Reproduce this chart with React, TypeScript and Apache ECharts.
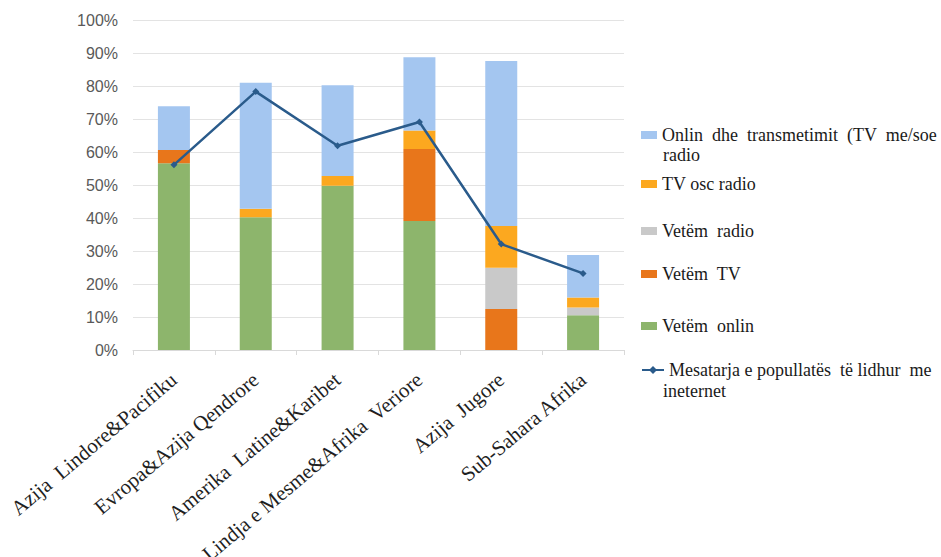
import React, { useEffect, useRef } from "react";
import * as echarts from "echarts";

const categories = [
  "Azija  Lindore&Pacifiku",
  "Evropa&Azija Qendrore",
  "Amerika  Latine&Karibet",
  "Lindja e Mesme&Afrika  Veriore",
  "Azija  Jugore",
  "Sub-Sahara Afrika",
];
const vetemOnlin = [56.6, 40.2, 49.8, 39.1, 0, 10.5];
const vetemTV = [4.0, 0, 0, 21.8, 12.4, 0];
const vetemRadio = [0, 0, 0, 0, 12.5, 2.4];
const tvOseRadio = [0, 2.6, 2.9, 5.6, 12.7, 3.0];
const onlinTransmetim = [13.3, 38.2, 27.5, 22.2, 50.0, 12.9];
const mesatarja = [56.1, 78.3, 61.9, 69.1, 32.1, 23.2];
const yTicks = [0, 10, 20, 30, 40, 50, 60, 70, 80, 90, 100];

const names = {
  blue: "Onlin dhe transmetimit (TV me/soe radio",
  yellow: "TV osc radio",
  grey: "Vetëm radio",
  orange: "Vetëm TV",
  green: "Vetëm onlin",
  line: "Mesatarja e popullatës të lidhur me ineternet",
};
const firstLines: Record<string, string> = {
  [names.blue]: "Onlin  dhe  transmetimit  (TV  me/soe",
  [names.line]: "Mesatarja e popullatës  të lidhur  me",
  [names.grey]: "Vetëm  radio",
  [names.orange]: "Vetëm  TV",
  [names.green]: "Vetëm  onlin",
};
const secondLines = [
  { text: "radio", y: 157 },
  { text: "ineternet", y: 393 },
];

const SERIF = "'Liberation Serif', 'DejaVu Serif', serif";

export default function App() {
  const ref = useRef<HTMLDivElement>(null);
  useEffect(() => {
    const chart = echarts.init(ref.current!, null, { renderer: "svg" });
    const textStyle = {
      fontFamily: SERIF,
      fontSize: 18,
      color: "#1a1a1a",
      lineHeight: 22,
    };
    const mkLegend = (name: string, top: number, line = false) => ({
      data: [name],
      left: 641,
      top,
      orient: "vertical",
      icon: line ? undefined : "rect",
      itemWidth: line ? 22 : 16,
      itemHeight: line ? 10 : 8,
      itemGap: 0,
      padding: 0,
      selectedMode: false,
      formatter: (n: string) => firstLines[n] ?? n,
      textStyle,
    });
    const barBase = {
      type: "bar",
      stack: "total",
      barWidth: 32,
    };
    chart.setOption({
      animation: false,
      grid: {
        left: 133,
        right: 317,
        top: 20,
        bottom: 207,
        containLabel: false,
        outerBoundsMode: "none",
      },
      legend: [
        mkLegend(names.blue, 124),
        mkLegend(names.yellow, 173),
        mkLegend(names.grey, 220),
        mkLegend(names.orange, 263),
        mkLegend(names.green, 315),
        mkLegend(names.line, 359, true),
      ],
      graphic: secondLines.map((l) => ({
        type: "text",
        left: 663,
        top: l.y - 11,
        style: {
          text: l.text,
          fontFamily: SERIF,
          fontSize: 18,
          fill: "#1a1a1a",
        },
      })),
      xAxis: {
        type: "category",
        data: categories,
        axisLine: { lineStyle: { color: "#d9d9d9", width: 1 } },
        axisTick: { show: true, length: 5, lineStyle: { color: "#d9d9d9" } },
        axisLabel: {
          rotate: 40,
          margin: 27,
          interval: 0,
          fontFamily: SERIF,
          fontSize: 21,
          color: "#1f1f1f",
        },
      },
      yAxis: {
        type: "value",
        min: yTicks[0],
        max: yTicks[yTicks.length - 1],
        interval: 10,
        axisLine: { show: false },
        axisTick: { show: false },
        splitLine: { lineStyle: { color: "#e3e3e3", width: 1 } },
        axisLabel: {
          formatter: "{value}%",
          fontFamily: "'Liberation Sans', Arial, sans-serif",
          fontSize: 16,
          color: "#595959",
          margin: 15,
        },
      },
      series: [
        { ...barBase, name: names.green, data: vetemOnlin, itemStyle: { color: "#8db56c" } },
        { ...barBase, name: names.orange, data: vetemTV, itemStyle: { color: "#e8761b" } },
        { ...barBase, name: names.grey, data: vetemRadio, itemStyle: { color: "#c9c9c9" } },
        { ...barBase, name: names.yellow, data: tvOseRadio, itemStyle: { color: "#fca81f" } },
        { ...barBase, name: names.blue, data: onlinTransmetim, itemStyle: { color: "#a4c6f0" } },
        {
          type: "line",
          name: names.line,
          data: mesatarja,
          z: 5,
          symbol: "diamond",
          symbolSize: 7,
          lineStyle: { color: "#2a5b8b", width: 2.5 },
          itemStyle: { color: "#2a5b8b" },
        },
      ],
    });
    return () => chart.dispose();
  }, []);
  return (
    <div
      ref={ref}
      style={{ position: "absolute", left: 0, top: 0, width: 941, height: 557 }}
    />
  );
}
